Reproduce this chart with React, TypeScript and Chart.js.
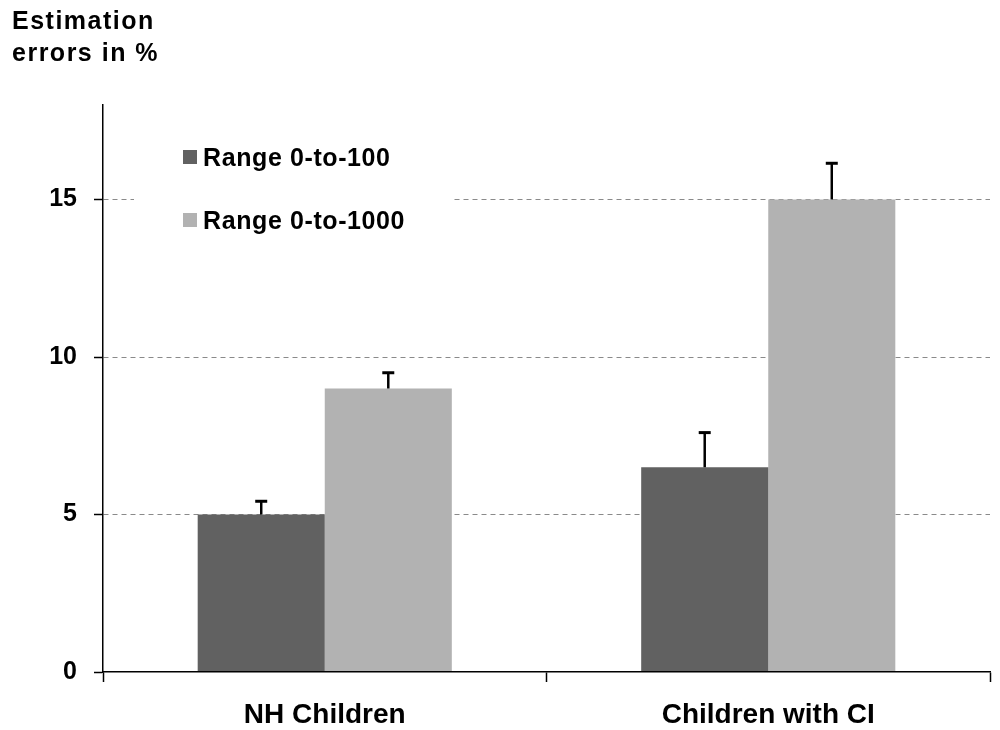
import { useEffect, useRef } from "react";
import { Chart, registerables } from "chart.js";

Chart.register(...registerables);

const categories = ["NH Children", "Children with CI"];
const seriesNames = ["Range 0-to-100", "Range 0-to-1000"];
const range100 = [5.0, 6.5];
const range1000 = [9.0, 15.0];
const range100Err = [0.42, 1.1];
const range1000Err = [0.5, 1.15];
const yTickValues = [0, 5, 10, 15];
const yMax = 18;
const yTitle = ["Estimation", "errors in %"];

const FONT = "'Liberation Sans', Arial, sans-serif";
const DARK = "#616161";
const LIGHT = "#b2b2b2";

const errorBarPlugin = {
  id: "errorBars",
  afterDatasetsDraw(chart: any) {
    const ctx = chart.ctx;
    const yScale = chart.scales.y;
    chart.data.datasets.forEach((ds: any, di: number) => {
      const meta = chart.getDatasetMeta(di);
      const errs: number[] = ds.errors || [];
      meta.data.forEach((el: any, i: number) => {
        const v = ds.data[i];
        const e = errs[i];
        if (e == null) return;
        const yTop = yScale.getPixelForValue(v + e);
        ctx.save();
        ctx.strokeStyle = "#000";
        ctx.lineWidth = 2.5;
        ctx.beginPath();
        ctx.moveTo(el.x, el.y);
        ctx.lineTo(el.x, yTop);
        ctx.stroke();
        ctx.lineWidth = 3;
        ctx.beginPath();
        ctx.moveTo(el.x - 6, yTop);
        ctx.lineTo(el.x + 6, yTop);
        ctx.stroke();
        ctx.restore();
      });
    });
  },
};

const decorPlugin = {
  id: "decor",
  beforeDatasetsDraw(chart: any) {
    const ctx = chart.ctx;
    // white legend box hiding part of the grid
    ctx.save();
    ctx.fillStyle = "#fff";
    ctx.fillRect(134, 120, 318, 125);
    ctx.restore();
  },
  afterDraw(chart: any) {
    const ctx = chart.ctx;
    ctx.save();
    ctx.fillStyle = "#000";
    ctx.textBaseline = "alphabetic";
    ctx.textAlign = "left";
    ctx.font = `bold 25px ${FONT}`;
    (ctx as any).letterSpacing = "1.5px";
    ctx.fillText(yTitle[0], 12, 29);
    ctx.fillText(yTitle[1], 12, 61);
    // legend
    ctx.font = `bold 25px ${FONT}`;
    (ctx as any).letterSpacing = "0.6px";
    const rows = [150, 213];
    chart.data.datasets.forEach((ds: any, i: number) => {
      const y = rows[i];
      ctx.fillStyle = ds.backgroundColor;
      ctx.fillRect(183, y, 14, 14);
      ctx.fillStyle = "#000";
      ctx.fillText(ds.label, 203, y + 16);
    });
    (ctx as any).letterSpacing = "0px";
    ctx.restore();
  },
};

export default function App() {
  const ref = useRef<HTMLCanvasElement | null>(null);
  useEffect(() => {
    document.body.style.margin = "0";
    const canvas = ref.current;
    if (!canvas) return;
    const chart = new Chart(canvas, {
      type: "bar",
      data: {
        labels: categories,
        datasets: [
          {
            label: seriesNames[0],
            data: range100,
            errors: range100Err,
            backgroundColor: DARK,
            borderWidth: 0,
            categoryPercentage: 0.573,
            barPercentage: 1.0,
          } as any,
          {
            label: seriesNames[1],
            data: range1000,
            errors: range1000Err,
            backgroundColor: LIGHT,
            borderWidth: 0,
            categoryPercentage: 0.573,
            barPercentage: 1.0,
          } as any,
        ],
      },
      options: {
        animation: false,
        responsive: true,
        maintainAspectRatio: false,
        layout: { padding: { top: 105, right: 10, left: 0, bottom: 0 } },
        plugins: {
          legend: { display: false },
          tooltip: { enabled: false },
          title: { display: false },
        },
        scales: {
          x: {
            offset: true,
            grid: {
              display: true,
              drawOnChartArea: false,
              offset: true,
              tickLength: 10,
              tickColor: "#000",
              tickWidth: 1.5,
              color: "#000",
            },
            border: { display: true, color: "#000", width: 1.5, z: 1 } as any,
            ticks: {
              color: "#000",
              font: { family: FONT, size: 28, weight: "bold" },
              padding: 16,
            },
            afterFit: (scale: any) => {
              scale.height = 58;
            },
          },
          y: {
            min: 0,
            max: yMax,
            afterBuildTicks: (scale: any) => {
              scale.ticks = yTickValues.map((v) => ({ value: v }));
            },
            grid: {
              color: (c: any) => (c.tick && c.tick.value === 0 ? "rgba(0,0,0,0)" : "#8a8a8a"),
              lineWidth: 1,
              tickLength: 9,
              tickColor: "#000",
              tickWidth: 1.5,
            },
            border: { display: true, color: "#000", width: 1.5, dash: [5, 4] } as any,
            ticks: {
              color: "#000",
              font: { family: FONT, size: 25, weight: "bold" },
              padding: 17,
            },
            afterFit: (scale: any) => {
              scale.width = 103;
            },
          },
        },
      } as any,
      plugins: [errorBarPlugin, decorPlugin],
    });
    return () => chart.destroy();
  }, []);
  return (
    <div style={{ width: 1000, height: 730, position: "relative" }}>
      <canvas ref={ref} />
    </div>
  );
}
